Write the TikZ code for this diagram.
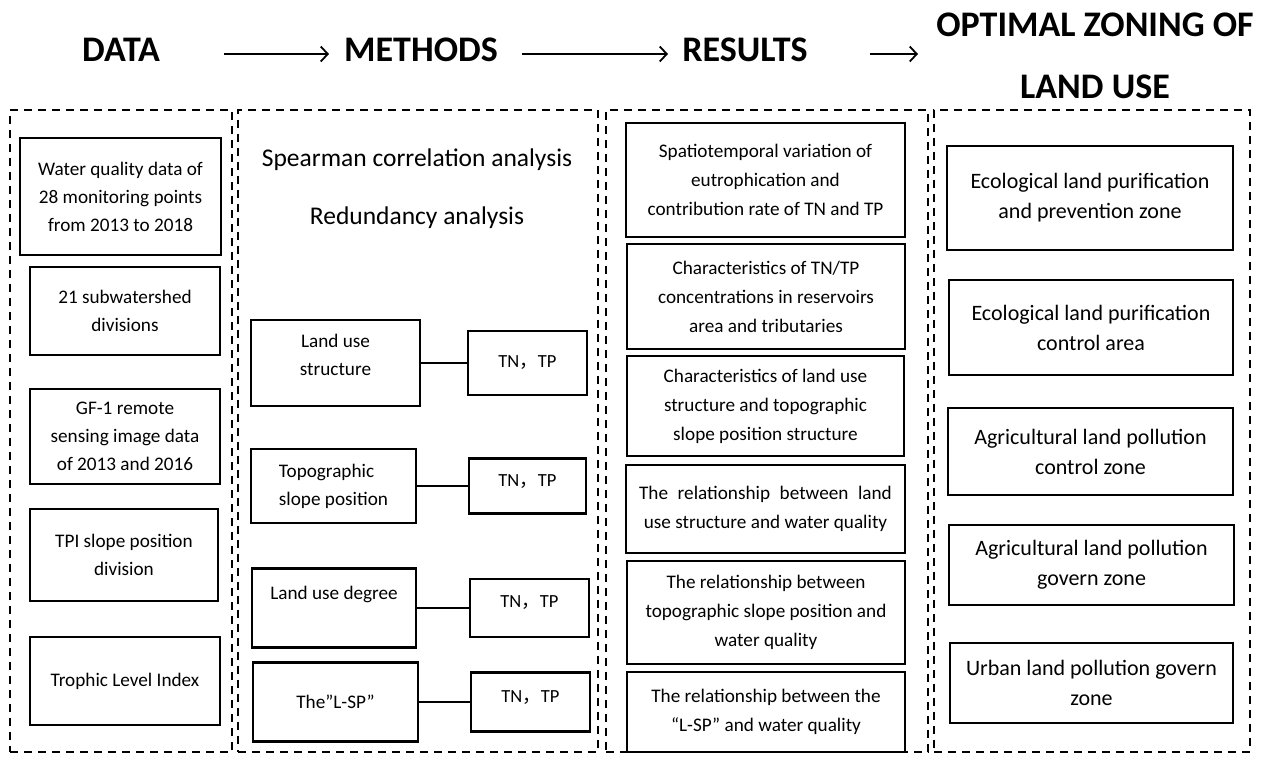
\documentclass[tikz,border=0pt]{standalone}
\usepackage{fontspec}
\setmainfont{Carlito}
\newfontfamily\cjk{Noto Sans CJK SC}
\usetikzlibrary{arrows.meta}
\begin{document}
\begin{tikzpicture}[x=1pt,y=-1pt,
  cont/.style={draw, line width=2pt, dash pattern=on 8pt off 6pt},
  box/.style={draw, line width=2.4pt, inner sep=0pt, align=center, font=\fontsize{19.2}{28}\selectfont},
  rbox/.style={box, font=\fontsize{19.2}{29}\selectfont},
  obox/.style={box, font=\fontsize{22}{30}\selectfont},
  tnbox/.style={box, font=\fontsize{18.5}{24}\selectfont},
  hdr/.style={font=\fontsize{36}{62}\selectfont\bfseries, align=center, inner sep=0pt},
  harrow/.style={line width=1.8pt, -{Straight Barb[length=7pt,width=15pt,line width=1.8pt]}},
  link/.style={line width=2pt},
  mtext/.style={font=\fontsize{25.5}{30}\selectfont, inner sep=0pt}
]
\useasboundingbox (0,0) rectangle (1270,756);
% headers
\node[hdr] (hdata) at (121,50) {DATA};
\node[hdr] (hmeth) at (421,50) {METHODS};
\node[hdr] (hres) at (745,50) {RESULTS};
\node[hdr] (hopt) at (1095,56) {OPTIMAL ZONING OF\\LAND USE};
\coordinate (a1s) at (224,54); \coordinate (a1e) at (329,54);
\coordinate (a2s) at (522,54); \coordinate (a2e) at (668,54);
\coordinate (a3s) at (870,54); \coordinate (a3e) at (918,54);
\draw[harrow] (a1s) -- (a1e);
\draw[harrow] (a2s) -- (a2e);
\draw[harrow] (a3s) -- (a3e);
% containers
\node[cont, minimum width=222pt, minimum height=642pt] (cdata) at (121,431) {};
\node[cont, minimum width=360pt, minimum height=642pt] (cmeth) at (418,431) {};
\node[cont, minimum width=322pt, minimum height=642pt] (cres) at (767,431) {};
\node[cont, minimum width=316pt, minimum height=642pt] (copt) at (1092,431) {};
% data
\node[box, minimum width=201pt, minimum height=117pt] (d1) at (120.5,196.5) {Water quality data of\\28 monitoring points\\from 2013 to 2018};
\node[box, minimum width=190pt, minimum height=88pt] (d2) at (125,311) {21 subwatershed\\divisions};
\node[box, minimum width=190pt, minimum height=95pt] (d3) at (125,436.5) {GF-1 remote\\sensing image data\\of 2013 and 2016};
\node[box, minimum width=188pt, minimum height=92pt] (d4) at (124,555) {TPI slope position\\division};
\node[box, minimum width=190pt, minimum height=88pt] (d5) at (125,681) {Trophic Level Index};
% methods
\node[mtext] (sp) at (417,160) {Spearman correlation analysis};
\node[mtext] (rd) at (417,218) {Redundancy analysis};
\node[box, minimum width=169pt, minimum height=86pt] (m1) at (335.5,363) {Land use\\structure\\[-11pt]};
\node[tnbox, minimum width=119pt, minimum height=64pt] (t1) at (527.5,363) {TN{\cjk ，}TP};
\node[box, minimum width=165pt, minimum height=74pt, align=left] (m2) at (333.5,486) {Topographic\\slope position};
\node[tnbox, minimum width=117pt, minimum height=55pt, text height=10pt, text depth=10pt] (t2) at (527.5,486) {TN{\cjk ，}TP};
\node[box, minimum width=164pt, minimum height=79pt, text height=13pt, text depth=30pt] (m3) at (334,608) {Land use degree};
\node[tnbox, minimum width=119pt, minimum height=58pt, text height=10pt, text depth=11pt] (t3) at (529.5,608) {TN{\cjk ，}TP};
\node[box, minimum width=165pt, minimum height=79pt] (m4) at (335.5,702) {The”L-SP”};
\node[tnbox, minimum width=119pt, minimum height=59pt, text height=10pt, text depth=10pt] (t4) at (530.5,702) {TN{\cjk ，}TP};
\draw[link] (m1.east) -- (t1.west);
\draw[link] (m2.east) -- (t2.west);
\draw[link] (m3.east) -- (t3.west);
\draw[link] (m4.east) -- (t4.west);
% results
\node[rbox, minimum width=279pt, minimum height=114pt] (r1) at (765.5,180) {Spatiotemporal variation of\\eutrophication and\\contribution rate of TN and TP};
\node[rbox, minimum width=278pt, minimum height=105pt] (r2) at (766,296.5) {Characteristics of TN/TP\\concentrations in reservoirs\\area and tributaries};
\node[rbox, minimum width=277pt, minimum height=100pt] (r3) at (765.5,406) {Characteristics of land use\\structure and topographic\\slope position structure};
\node[rbox, minimum width=279pt, minimum height=88pt] (r4) at (765.5,509) {The\hspace{0.5em}relationship\hspace{0.5em}between\hspace{0.5em}land\\use structure and water quality};
\node[rbox, minimum width=278pt, minimum height=103pt] (r5) at (766,612.5) {The relationship between\\topographic slope position and\\water quality};
\node[rbox, minimum width=278pt, minimum height=80pt] (r6) at (766,712) {The relationship between the\\“L-SP” and water quality};
% optimal zoning
\node[obox, minimum width=286pt, minimum height=104pt] (o1) at (1090,198) {Ecological land purification\\and prevention zone};
\node[obox, minimum width=284pt, minimum height=95pt] (o2) at (1091,327.5) {Ecological land purification\\control area};
\node[obox, minimum width=285pt, minimum height=87pt] (o3) at (1090.5,451.5) {Agricultural land pollution\\control zone};
\node[obox, minimum width=285pt, minimum height=80pt] (o4) at (1091.5,565) {Agricultural land pollution\\govern zone};
\node[obox, minimum width=283pt, minimum height=80pt] (o5) at (1091.5,683) {Urban land pollution govern\\zone};
\end{tikzpicture}
\end{document}
